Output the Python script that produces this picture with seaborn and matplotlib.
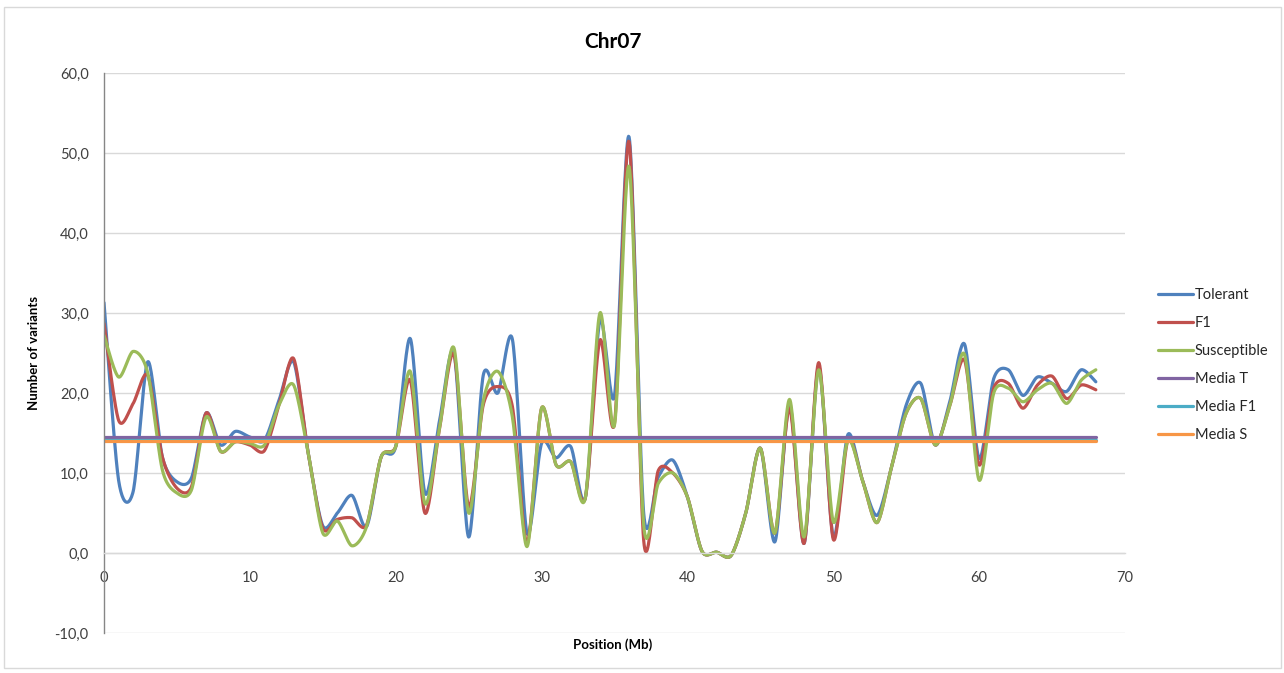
import numpy as np
import pandas as pd
import matplotlib
matplotlib.use("Agg")
import matplotlib.pyplot as plt
import seaborn as sns
from matplotlib.patches import Rectangle
from matplotlib.ticker import FuncFormatter

# ---------------- data ----------------
positions = list(range(69))

tolerant = [31.3, 9.1, 7.7, 23.9, 12.0, 8.9, 9.4, 17.5, 13.5, 15.2,
            14.5, 14.1, 19.1, 23.9, 12.5, 3.4, 5.0, 7.2, 3.3, 12.0,
            13.3, 26.8, 7.5, 16.5, 25.0, 2.0, 22.2, 20.0, 26.7, 2.5,
            13.7, 11.9, 13.3, 6.9, 29.1, 19.7, 52.0, 5.0, 9.5, 11.6,
            7.0, 0.2, 0.1, -0.3, 5.0, 13.1, 1.4, 18.6, 1.2, 23.3,
            2.0, 14.8, 9.1, 4.7, 10.8, 18.5, 21.2, 13.5, 19.0, 26.1,
            11.8, 21.8, 22.9, 19.7, 22.0, 21.2, 20.2, 22.9, 21.4]

f1 = [28.7, 16.6, 18.7, 22.2, 12.0, 8.1, 8.3, 17.5, 12.7, 13.9,
      13.5, 12.8, 18.5, 24.3, 12.5, 3.1, 4.2, 4.4, 3.5, 12.0,
      13.3, 21.6, 5.0, 15.5, 24.8, 5.8, 18.5, 20.8, 18.3, 1.2,
      18.1, 11.0, 11.4, 6.9, 26.6, 16.2, 51.4, 1.6, 10.3, 10.0,
      7.0, 0.2, 0.1, -0.3, 5.0, 13.1, 2.5, 18.1, 1.2, 23.8,
      1.7, 14.1, 9.1, 3.8, 10.8, 17.5, 19.3, 13.5, 18.5, 24.1,
      11.0, 20.6, 21.2, 18.1, 21.0, 22.1, 19.3, 21.0, 20.4]

susceptible = [27.2, 22.0, 25.2, 22.5, 10.4, 7.5, 7.9, 17.0, 12.7, 13.9,
               13.7, 13.5, 18.5, 21.0, 12.5, 2.5, 4.0, 0.9, 3.3, 12.0,
               13.3, 22.7, 6.2, 15.6, 25.6, 5.0, 19.0, 22.7, 17.0, 0.8,
               18.1, 11.0, 11.4, 6.9, 30.0, 16.0, 48.3, 3.5, 8.7, 10.0,
               7.0, 0.2, 0.1, -0.3, 5.0, 13.1, 2.5, 19.2, 2.0, 22.9,
               3.9, 14.1, 9.1, 3.8, 10.8, 17.5, 19.3, 13.5, 18.5, 24.8,
               9.1, 20.0, 20.6, 18.9, 20.4, 21.2, 18.7, 21.6, 22.9]

media_t = 14.55
media_f1 = 14.15
media_s = 14.05

series_names = ["Tolerant", "F1", "Susceptible", "Media T", "Media F1", "Media S"]
colors = ["#4F81BD", "#C0504D", "#9BBB59", "#8064A2", "#4BACC6", "#F79646"]

y_ticks = [-10, 0, 10, 20, 30, 40, 50, 60]
x_ticks = [0, 10, 20, 30, 40, 50, 60, 70]


# Excel-like smoothed line (Bezier through the data points)
def smooth(xs, ys, n=24, k=0.14):
    xs = np.asarray(xs, float)
    ys = np.asarray(ys, float)
    P = np.column_stack([xs, ys])
    Pp = np.vstack([P[0], P, P[-1]])
    out = []
    t = np.linspace(0, 1, n, endpoint=False)[:, None]
    for i in range(len(P) - 1):
        p0, p1, p2, p3 = Pp[i], Pp[i + 1], Pp[i + 2], Pp[i + 3]
        c1 = p1 + (p2 - p0) * k
        c2 = p2 - (p3 - p1) * k
        b = ((1 - t) ** 3) * p1 + 3 * ((1 - t) ** 2) * t * c1 + 3 * (1 - t) * t ** 2 * c2 + t ** 3 * p2
        out.append(b)
    out.append(P[-1][None, :])
    arr = np.vstack(out)
    return arr[:, 0], arr[:, 1]


sns.set_theme(style="white")
plt.rcParams["font.family"] = ["Lato", "DejaVu Sans"]

W, H = 1284, 673
fig = plt.figure(figsize=(W / 100, H / 100), dpi=100)
ax = fig.add_axes([104 / W, 1 - 633 / H, (1125 - 104) / W, (633 - 73) / H])

lw = 2.3
for name, vals, col in zip(series_names[:3], [tolerant, f1, susceptible], colors[:3]):
    sx, sy = smooth(positions, vals)
    df = pd.DataFrame({"x": sx, "y": sy})
    sns.lineplot(data=df, x="x", y="y", ax=ax, color=col, lw=lw, label=name,
                 sort=False, estimator=None)

for name, m, col in zip(series_names[3:], [media_t, media_f1, media_s], colors[3:]):
    df = pd.DataFrame({"x": [positions[0], positions[-1]], "y": [m, m]})
    sns.lineplot(data=df, x="x", y="y", ax=ax, color=col, lw=lw, label=name,
                 sort=False, estimator=None)

ax.set_xlim(0, 70)
ax.set_ylim(-10, 60)
ax.set_xticks(x_ticks)
ax.set_yticks(y_ticks)
ax.yaxis.set_major_formatter(FuncFormatter(lambda v, p: f"{v:.1f}".replace(".", ",")))
ax.grid(axis="y", color="#D9D9D9", lw=1)
ax.grid(axis="x", visible=False)
ax.set_axisbelow(True)

for s in ["top", "right"]:
    ax.spines[s].set_visible(False)
ax.spines["left"].set_color("#868686")
ax.spines["left"].set_linewidth(1)
ax.spines["bottom"].set_position(("data", 0))
ax.spines["bottom"].set_color("#D9D9D9")
ax.spines["bottom"].set_linewidth(1)
ax.tick_params(axis="both", length=0, labelsize=10.5, colors="#404040")
ax.tick_params(axis="y", pad=11)
ax.tick_params(axis="x", pad=13)
ax.set_xlabel("")
ax.set_ylabel("")

handles, labels = ax.get_legend_handles_labels()
if ax.legend_:
    ax.legend_.remove()
fig.legend(handles, labels, loc="center left",
           bbox_to_anchor=(1152 / W, 1 - 365 / H), frameon=False,
           fontsize=10.5, handlelength=2.4, handletextpad=0.15,
           labelspacing=0.95, borderaxespad=0)

fig.text(613 / W, 1 - 42 / H, "Chr07", ha="center", va="center",
         fontsize=15, fontweight="bold", color="black")
fig.text(613 / W, 1 - 645 / H, "Position (Mb)", ha="center", va="center",
         fontsize=9.5, fontweight="bold", color="black")
fig.text(34 / W, 1 - 353 / H, "Number of variants", ha="center", va="center",
         rotation=90, fontsize=9.5, fontweight="bold", color="black")

fig.patches.append(Rectangle((4 / W, 1 - 668 / H), (1281 - 4) / W, (668 - 7) / H,
                             transform=fig.transFigure, fill=False,
                             edgecolor="#D9D9D9", lw=1))

fig.savefig("out.png", dpi=100, facecolor="white")
